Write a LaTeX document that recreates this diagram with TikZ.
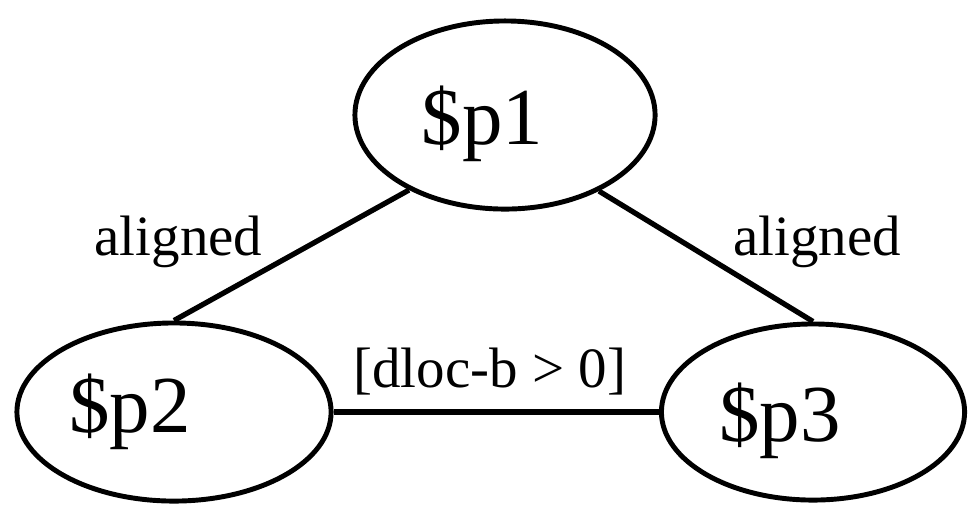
\documentclass[tikz,border=0pt]{standalone}
\usepackage{fontspec}
\setmainfont{Liberation Serif}
\usepackage{tikz}
\usetikzlibrary{shapes.geometric,positioning}

\begin{document}
\begin{tikzpicture}[x=0.01cm,y=-0.01cm,
	proc/.style={ellipse, draw, line width=1.4pt, inner sep=0pt,
		font=\fontsize{23pt}{27pt}\selectfont},
	lbl/.style={inner sep=0pt, font=\fontsize{16.2pt}{19pt}\selectfont}]
		\useasboundingbox (0,0) rectangle (968,505);
		\node[proc, minimum width=3cm, minimum height=1.88cm, text depth=0pt] (p1) at (505,115) {\$p1\hspace*{0.45cm}};
		\node[proc, minimum width=3.14cm, minimum height=1.78cm] (p2) at (174,412) {\$p2\hspace*{0.88cm}};
		\node[proc, minimum width=3.03cm, minimum height=1.76cm, text depth=0pt] (p3) at (813,412) {\$p3\hspace*{0.66cm}};
		%
		\draw[line width=1.5pt]
			%Sides
			(p1.218) edge node[lbl, pos=0.4, left=0.5cm] {aligned} (p2.north)
			(p1.321) edge node[lbl, pos=0.39, right=0.48cm] {aligned} (p3.north)
			%Base
			(p2) edge node[lbl, pos=0.48, above=0.14cm] {[dloc-b > 0]} (p3)
		;
\end{tikzpicture}
\end{document}
